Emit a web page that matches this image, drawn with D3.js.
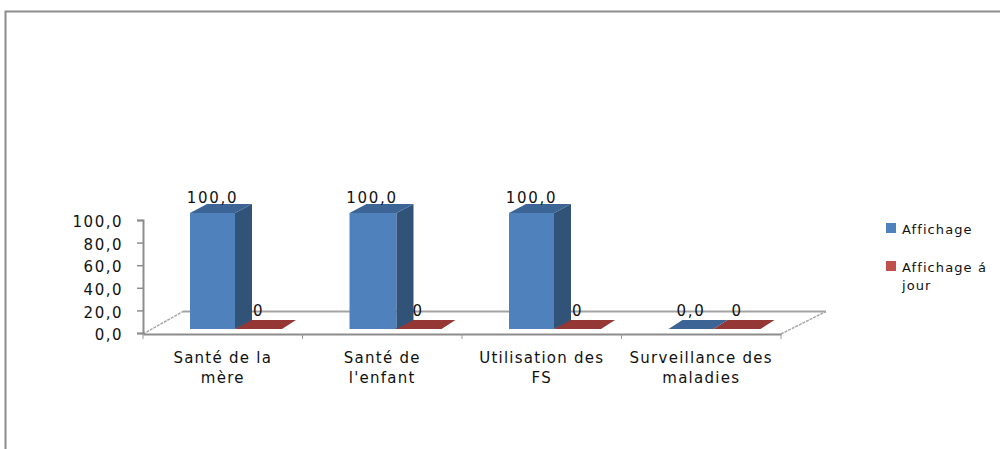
<!DOCTYPE html>
<html><head><meta charset="utf-8">
<script src="https://cdn.jsdelivr.net/npm/d3@7"></script>
<style>
html,body{margin:0;padding:0;background:#fff;overflow:hidden}
text{font-family:"DejaVu Sans",sans-serif;fill:#111}
</style></head><body>
<svg id="c" width="1000" height="449"></svg>
<script>
const categories = [["Santé de la","mère"],["Santé de","l'enfant"],["Utilisation des","FS"],["Surveillance des","maladies"]];
const affichage = [100,100,100,0];
const affichageAJour = [0,0,0,0];
const yTicks = [0,20,40,60,80,100];
const seriesNames = [["Affichage"],["Affichage á","jour"]];
const colors = {blue:{front:"#4f81bd",top:"#3c6494",side:"#315378"},red:{front:"#943735",top:"#943735",side:"#7a2d2b",legend:"#c0504d"}};

const svg = d3.select("#c");
const comma = v => d3.format(".1f")(v).replace(".",",");

// frame
svg.append("path").attr("d","M5.5 449V11.5H1000").attr("fill","none").attr("stroke","#8c8c8c").attr("stroke-width",2);

const x = d3.scaleBand().domain(d3.range(4)).range([143,781]);
const yAxisScale = d3.scaleLinear().domain([0,100]).range([333,220]);
const yBar = d3.scaleLinear().domain([0,100]).range([329,213]);

// floor
const floor = svg.append("g");
floor.append("line").attr("x1",183).attr("y1",311.5).attr("x2",826).attr("y2",311.5).attr("stroke","#a3a3a3").attr("stroke-width",2);
floor.selectAll("line.d").data([[143,183],[781,826]]).join("line").attr("class","d")
 .attr("x1",d=>d[0]).attr("y1",334).attr("x2",d=>d[1]).attr("y2",311.5)
 .attr("stroke","#a8a8a8").attr("stroke-width",1.5).attr("stroke-dasharray","3 1");

// axes
const axL = svg.append("g").attr("transform","translate(143,0)")
 .call(d3.axisLeft(yAxisScale).tickValues(yTicks).tickSize(6).tickPadding(14).tickFormat(comma));
const axB = svg.append("g").attr("transform","translate(0,334)")
 .call(d3.axisBottom(x).tickValues([]).tickSize(0));
axB.selectAll("line.t").data(x.domain().map(i=>x(i)).concat([781])).join("line").attr("class","t")
 .attr("x1",d=>d).attr("x2",d=>d).attr("y1",0).attr("y2",5).attr("stroke","#9a9a9a");
svg.selectAll(".domain").attr("stroke","#8c8c8c").attr("stroke-width",2);
axL.selectAll("line").attr("stroke","#8c8c8c").attr("stroke-width",1.5);
axL.selectAll("text").style("font-size","15px").style("letter-spacing","1.5px").attr("dy","0.45em").attr("fill","#111");

// bars
function bar(g,x0,w,v,c){
  const b = yBar(0), t = yBar(v), tall = v>0, dx = tall?17:14, dy = 9;
  if(tall){
    g.append("rect").attr("x",x0).attr("y",t).attr("width",w).attr("height",b-t).attr("fill",c.front);
    g.append("path").attr("d",`M${x0+w} ${t}L${x0+w+dx} ${t-dy}V${b-dy}L${x0+w} ${b}Z`).attr("fill",c.side);
  }
  g.append("path").attr("d",`M${x0} ${t}L${x0+dx} ${t-dy}H${x0+w+dx}L${x0+w} ${t}Z`).attr("fill",c.top);
}
const barsG = svg.append("g");
d3.range(4).forEach(i=>{
  bar(barsG,x(i)+92,47,affichageAJour[i],colors.red);
  bar(barsG,x(i)+47,45+(i===1?2:0),affichage[i],colors.blue);
});

// data labels
const labels = svg.append("g").attr("text-anchor","middle").style("font-size","15px").style("letter-spacing","1.7px");
d3.range(4).forEach(i=>{
  labels.append("text").attr("x",x(i)+69.5).attr("y",affichage[i]>0?203:316).text(comma(affichage[i]));
  labels.append("text").attr("x",x(i)+115.5).attr("y",316).text(String(affichageAJour[i]));
});

// category labels
const cat = svg.append("g").attr("text-anchor","middle").style("font-size","15px").style("letter-spacing","1.25px");
categories.forEach((lines,i)=>{
  lines.forEach((l,j)=>cat.append("text").attr("x",x(i)+x.bandwidth()/2).attr("y",363+j*20).text(l));
});

// legend
const leg = svg.append("g").style("font-size","13px").style("letter-spacing","1.1px");
seriesNames.forEach((lines,i)=>{
  const y0 = i===0?223:261;
  leg.append("rect").attr("x",886).attr("y",y0).attr("width",10).attr("height",10).attr("fill",i===0?colors.blue.front:colors.red.legend);
  lines.forEach((l,j)=>leg.append("text").attr("x",902).attr("y",y0+11+j*18).text(l));
});
</script>
</body></html>
